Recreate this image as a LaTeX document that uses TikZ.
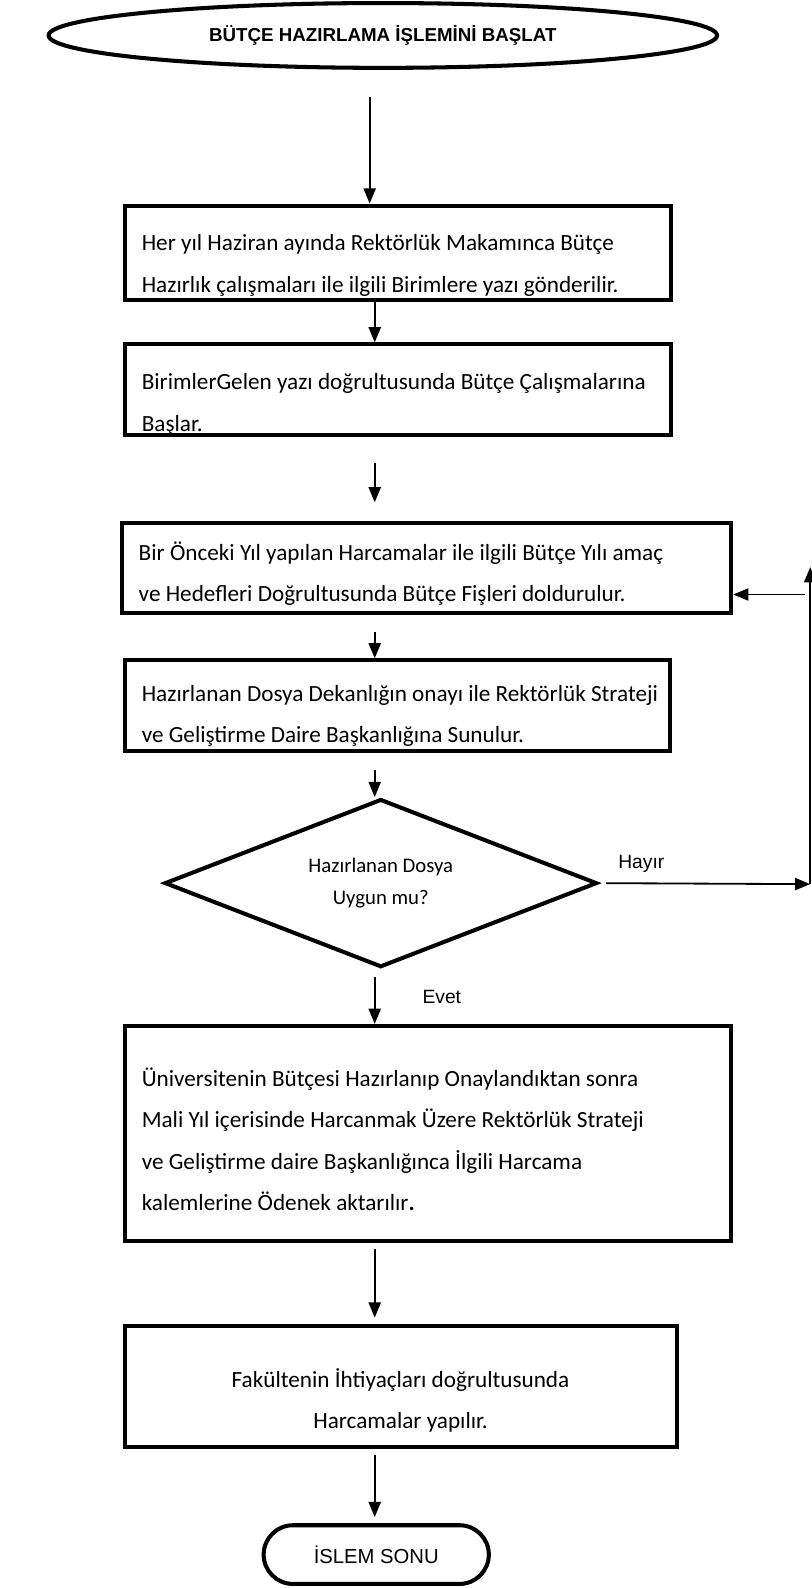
\documentclass[tikz,border=0pt]{standalone}
\usepackage{fontspec}
\setmainfont{Carlito}
\newfontfamily\arialfont{Liberation Sans}
\usetikzlibrary{arrows.meta,shapes.geometric,shapes.misc,positioning}
\newcommand{\boxlead}[1][32pt]{\rule{0pt}{#1}\hspace*{17pt}}
\newcommand{\boxbreak}{\\\hspace*{17pt}}
\tikzset{
    start-oval/.style = {draw, ellipse, line width=4pt, inner sep=0pt, minimum width=660pt, minimum height=64pt, font=\arialfont\bfseries\fontsize{18.5}{22}\selectfont},
    step-box/.style = {draw, rectangle, line width=4pt, inner xsep=0pt, inner ysep=0pt, align=flush left, font=\fontsize{22.9}{41}\selectfont},
    ask-diamond/.style = {draw, diamond, aspect=2.57, line width=4pt, inner sep=0pt, align=center, minimum width=427pt, minimum height=166pt, font=\fontsize{20.5}{32}\selectfont},
    end-pill/.style = {draw, rounded rectangle, line width=4pt, minimum width=229pt, minimum height=58pt, font=\arialfont\fontsize{20}{24}\selectfont},
    flow/.style = {-{Triangle[width=12pt,length=15pt]}, line width=1.8pt},
    flow-label/.style = {font=\arialfont\fontsize{19}{22}\selectfont},
}

\begin{document}
\begin{tikzpicture}[x=1pt, y=-1pt]
\useasboundingbox (0,0) rectangle (801,1568);
\coordinate (spine) at (370,0);

\node[start-oval] (start) at (378,35) {BÜTÇE HAZIRLAMA İŞLEMİNİ BAŞLAT};

\node[step-box, minimum width=540pt, minimum height=93pt, text width=540pt] (yazi) at (393,249.5)
    {\boxlead[41pt]Her yıl Haziran ayında Rektörlük Makamınca Bütçe\boxbreak Hazırlık çalışmaları ile ilgili Birimlere yazı gönderilir.};
\node[step-box, minimum width=540pt, minimum height=89pt, text width=540pt] (calisma) at (393,385)
    {\boxlead[45pt]BirimlerGelen yazı doğrultusunda Bütçe Çalışmalarına\boxbreak Başlar.};
\node[step-box, minimum width=602pt, minimum height=89pt, text width=602pt] (fis) at (421,560.5)
    {\boxlead[30pt]Bir Önceki Yıl yapılan Harcamalar ile ilgili Bütçe Yılı amaç\boxbreak ve Hedefleri Doğrultusunda Bütçe Fişleri doldurulur.};
\node[step-box, minimum width=539pt, minimum height=90pt, text width=539pt] (dosya) at (392.5,697)
    {\boxlead[36pt]Hazırlanan Dosya Dekanlığın onayı ile Rektörlük Strateji\boxbreak ve Geliştirme Daire Başkanlığına Sunulur.};

\node[ask-diamond] (uygun) at (376,872) {Hazırlanan Dosya\\Uygun mu?};

\node[step-box, minimum width=599pt, minimum height=212pt, text width=599pt] (odenek) at (422.5,1119)
    {\boxlead[30pt]Üniversitenin Bütçesi Hazırlanıp Onaylandıktan sonra\boxbreak Mali Yıl içerisinde Harcanmak Üzere Rektörlük Strateji\boxbreak ve Geliştirme daire Başkanlığınca İlgili Harcama\boxbreak kalemlerine Ödenek aktarılır\textbf{.}};
\node[step-box, align=flush center, minimum width=545pt, minimum height=120pt, text width=545pt] (harcama) at (395.5,1369)
    {\rule{0pt}{46pt}Fakültenin İhtiyaçları doğrultusunda\\Harcamalar yapılır.};

\node[end-pill] (son) at (371.5,1535) {İSLEM SONU};

% main flow
\draw[flow, shorten <=27pt] (start.south -| {(365,0)}) -- (yazi.north -| {(365,0)});
\draw[flow] (yazi.south -| spine) -- (calisma.north -| spine);
\draw[flow, shorten <=25pt, shorten >=18pt] (calisma.south -| spine) -- (fis.north -| spine);
\draw[flow, shorten <=17pt] (fis.south -| spine) -- (dosya.north -| spine);
\draw[flow, shorten <=16pt] (dosya.south -| spine) -- (uygun.north -| spine);
\draw[flow, shorten <=8pt] (uygun.south -| spine) -- node[flow-label, right=43pt] (evet) {Evet} (odenek.north -| spine);
\draw[flow, shorten <=6pt, shorten >=6pt] (odenek.south -| spine) -- (harcama.north -| spine);
\draw[flow, shorten <=6pt, shorten >=6pt] (harcama.south -| spine) -- (son.north -| spine);

% return loop
\coordinate (loop-low) at (800,873);
\coordinate (loop-high) at (800,560);
\coordinate (loop-back) at (795,587);
\draw[flow, shorten <=7pt] (uygun.east) -- node[flow-label, above=6pt, pos=0.2] (hayir) {Hayır} (loop-low);
\draw[flow] (loop-low) -- (loop-high);
\draw[flow] (loop-back) -- (fis.east |- loop-back);
\end{tikzpicture}
\end{document}
